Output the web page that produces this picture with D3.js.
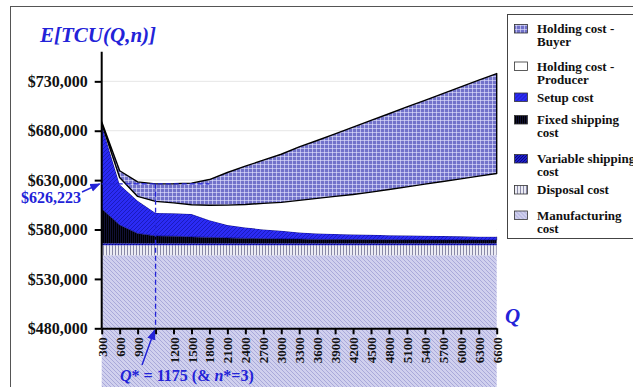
<!DOCTYPE html>
<html>
<head>
<meta charset="utf-8">
<script src="https://cdn.jsdelivr.net/npm/d3@7"></script>
<style>
  body { margin: 0; background: #fff; }
  svg { display: block; }
  text { font-family: "Liberation Serif", "Times New Roman", serif; font-weight: bold; }
</style>
</head>
<body>
<svg id="chart" width="633" height="387"></svg>
<script>
// order quantity Q (1175 is the optimum, its label is hidden on the axis)
const categories = [300, 600, 900, 1175, 1200, 1500, 1800, 2100, 2400, 2700, 3000, 3300,
  3600, 3900, 4200, 4500, 4800, 5100, 5400, 5700, 6000, 6300, 6600];
const tickLabels = ["300", "600", "900", "", "1200", "1500", "1800", "2100", "2400", "2700", "3000", "3300",
  "3600", "3900", "4200", "4500", "4800", "5100", "5400", "5700", "6000", "6300", "6600"];
const yTicks = [480000, 530000, 580000, 630000, 680000, 730000];

// cost components ($), bottom of the stack first
const manufacturing = [554000, 554000, 554000, 554000, 554000, 554000, 554000, 554000, 554000, 554000, 554000, 554000,
  554000, 554000, 554000, 554000, 554000, 554000, 554000, 554000, 554000, 554000, 554000];
const disposal = [10000, 10000, 10000, 10000, 10000, 10000, 10000, 10000, 10000, 10000, 10000, 10000,
  10000, 10000, 10000, 10000, 10000, 10000, 10000, 10000, 10000, 10000, 10000];
const variableShipping = [2000, 2000, 2000, 2000, 2000, 2000, 2000, 2000, 2000, 2000, 2000, 2000,
  2000, 2000, 2000, 2000, 2000, 2000, 2000, 2000, 2000, 2000, 2000];
const fixedShipping = [35000, 18500, 10000, 7500, 7200, 6500, 6000, 5500, 5000, 4700, 4500, 4300,
  4000, 3900, 3800, 3700, 3600, 3500, 3400, 3400, 3300, 3300, 3300];
const setup = [85000, 41000, 33000, 23300, 23300, 23100, 17500, 13000, 11100, 9400, 8200, 6700,
  6000, 5600, 5200, 4900, 4700, 4500, 4300, 4000, 3800, 3500, 3300];
const holdingProducer = [1000, 7200, 4500, 11700, 10500, 9400, 15100, 20200, 23200, 26400, 28800, 32500,
  35500, 38000, 40500, 43200, 46200, 49200, 52200, 55200, 58200, 61200, 64100];
const holdingBuyer = [2000, 6800, 14700, 17723, 19400, 22000, 26000, 33000, 38800, 43700, 48700, 54100,
  58600, 63400, 68100, 72600, 76700, 80900, 84900, 89000, 93100, 97200, 101200];

const qStar = 1175;
const costStar = 626223;

const series = [
  {key: "manufacturing", values: manufacturing, fill: "url(#pManu)", label: ["Manufacturing", "cost"]},
  {key: "disposal", values: disposal, fill: "url(#pDisp)", label: ["Disposal cost"]},
  {key: "variableShipping", values: variableShipping, fill: "url(#pVar)", label: ["Variable shipping", "cost"]},
  {key: "fixedShipping", values: fixedShipping, fill: "url(#pFixed)", label: ["Fixed shipping", "cost"]},
  {key: "setup", values: setup, fill: "url(#pSetup)", label: ["Setup cost"]},
  {key: "holdingProducer", values: holdingProducer, fill: "#ffffff", label: ["Holding cost -", "Producer"]},
  {key: "holdingBuyer", values: holdingBuyer, fill: "url(#pHB)", label: ["Holding cost -", "Buyer"]}
];

const blue = "#2323d8";
const svg = d3.select("#chart");

// patterns
const defs = svg.append("defs");
function pattern(id, size, bg, path, stroke, sw) {
  const p = defs.append("pattern").attr("id", id).attr("patternUnits", "userSpaceOnUse")
    .attr("width", size).attr("height", size);
  p.append("rect").attr("width", size).attr("height", size).attr("fill", bg);
  p.append("path").attr("d", path).attr("stroke", stroke).attr("stroke-width", sw).attr("fill", "none");
}
pattern("pHB", 4, "#7272ca", "M0,0.5H4M0.5,0V4", "#e8e8ff", 0.6);
pattern("pSetup", 4, "#2b2bf4", "M0,4L4,0M-1,1L1,-1M3,5L5,3", "#1616b0", 0.8);
pattern("pFixed", 2, "#000000", "M0.5,0V2", "#1c1c58", 0.6);
pattern("pVar", 3, "#1e1ec8", "M0,3L3,0M-1,1L1,-1M2,4L4,2", "#00006a", 0.8);
pattern("pDisp", 3, "#ececf4", "M1.5,0V3", "#8a8aa8", 1);
pattern("pManu", 4, "#d0d0ee", "M0,0L4,4M-1,3L1,5M3,-1L5,1", "#a0a0d4", 0.8);

// outer frame
svg.append("rect").attr("x", 10.5).attr("y", 6.5).attr("width", 700).attr("height", 500)
  .attr("fill", "none").attr("stroke", "#555").attr("stroke-width", 1);

const x = d3.scalePoint().domain(categories).range([101.7, 496.7]);
const y = d3.scaleLinear().domain([480000, 760000]).range([328.3, 51.7]);

// gridlines
svg.append("g").selectAll("line").data(yTicks.slice(1)).join("line")
  .attr("x1", 101.7).attr("x2", 496.7)
  .attr("y1", d => y(d)).attr("y2", d => y(d))
  .attr("stroke", "#e6e6e6").attr("stroke-width", 1);

// stacked areas
const rows = categories.map((q, i) => {
  const r = {q: q};
  series.forEach(s => r[s.key] = s.values[i]);
  return r;
});
const stacked = d3.stack().keys(series.map(s => s.key))(rows);

const area = d3.area()
  .x(d => x(d.data.q))
  .y0(d => y(d[0]))
  .y1(d => y(d[1]));

svg.append("g").selectAll("path").data(stacked).join("path")
  .attr("d", area)
  .attr("fill", (d, i) => series[i].fill)
  .attr("stroke", (d, i) => series[i].key === "holdingBuyer" ? "#000" : (series[i].key === "setup" ? "#000050" : "none"))
  .attr("stroke-width", (d, i) => series[i].key === "holdingBuyer" ? 1.4 : 0.6)
  .attr("stroke-linejoin", "round");

// axes
const yAxis = svg.append("g").attr("transform", "translate(101.7,0)")
  .call(d3.axisLeft(y).tickValues(yTicks).tickSize(7).tickPadding(7)
    .tickFormat(d => "$" + d3.format(",")(d)));
yAxis.select(".domain").attr("stroke-width", 2).attr("d", "M0," + y(760000) + "V" + y(480000));
yAxis.selectAll(".tick line").attr("stroke-width", 2);
yAxis.selectAll(".tick text").attr("font-size", 16).attr("fill", "#111")
  .style("font-family", "'Liberation Serif', serif").style("font-weight", "bold");

const xAxis = svg.append("g").attr("transform", "translate(0," + y(480000) + ")")
  .call(d3.axisBottom(x).tickSize(6).tickSizeOuter(0).tickFormat((d, i) => tickLabels[i]));
xAxis.select(".domain").attr("stroke-width", 2);
xAxis.selectAll(".tick line").attr("stroke-width", 2);
xAxis.selectAll(".tick text")
  .attr("font-size", 13).attr("fill", "#111")
  .style("font-family", "'Liberation Serif', serif").style("font-weight", "bold")
  .attr("text-anchor", "end")
  .attr("transform", "rotate(-90)")
  .attr("x", -9).attr("y", 0).attr("dy", "0.35em");

// optimum markers
const xs = x(qStar), ys = y(costStar);
svg.append("line").attr("x1", x(300)).attr("x2", x(1800)).attr("y1", ys).attr("y2", ys)
  .attr("stroke", blue).attr("stroke-width", 1.3).attr("stroke-dasharray", "5,3");
svg.append("line").attr("x1", xs).attr("x2", xs).attr("y1", ys).attr("y2", y(480000))
  .attr("stroke", blue).attr("stroke-width", 1.3).attr("stroke-dasharray", "5,3");

defs.append("marker").attr("id", "arrow").attr("viewBox", "0 0 10 10").attr("refX", 9).attr("refY", 5)
  .attr("markerWidth", 7).attr("markerHeight", 7).attr("orient", "auto-start-reverse")
  .append("path").attr("d", "M0,1L10,5L0,9z").attr("fill", blue);

svg.append("line").attr("x1", 82).attr("y1", 192).attr("x2", x(300) - 2).attr("y2", ys)
  .attr("stroke", blue).attr("stroke-width", 1.5).attr("marker-end", "url(#arrow)");
svg.append("line").attr("x1", 142).attr("y1", 365).attr("x2", xs - 1).attr("y2", y(480000) + 2)
  .attr("stroke", blue).attr("stroke-width", 1.5).attr("marker-end", "url(#arrow)");

svg.append("text").attr("x", 21).attr("y", 203).attr("font-size", 16).attr("fill", blue)
  .text("$" + d3.format(",")(costStar));

const qt = svg.append("text").attr("x", 120).attr("y", 381).attr("font-size", 16).attr("fill", blue);
qt.append("tspan").attr("font-style", "italic").text("Q");
qt.append("tspan").text("* = " + qStar + " (& ");
qt.append("tspan").attr("font-style", "italic").text("n");
qt.append("tspan").text("*=3)");

// titles
svg.append("text").attr("x", 40).attr("y", 41.5).attr("font-size", 21)
  .attr("font-style", "italic").attr("fill", blue).text("E[TCU(Q,n)]");
svg.append("text").attr("x", 505).attr("y", 323).attr("font-size", 21)
  .attr("font-style", "italic").attr("fill", blue).text("Q");

// legend
svg.append("rect").attr("x", 507.5).attr("y", 14.5).attr("width", 200).attr("height", 224)
  .attr("fill", "#fff").attr("stroke", "#444").attr("stroke-width", 1);
const legendY = [33, 70.5, 101.5, 124, 163, 194, 219.5];
const legendSeries = series.slice().reverse();
const lg = svg.append("g").selectAll("g").data(legendSeries).join("g")
  .attr("transform", (d, i) => "translate(0," + legendY[i] + ")");
lg.append("rect").attr("x", 514.5).attr("y", -8.5).attr("width", 13).attr("height", 8.5)
  .attr("fill", d => d.fill).attr("stroke", "#333").attr("stroke-width", 0.8);
lg.each(function (d) {
  const g = d3.select(this);
  d.label.forEach((line, i) => {
    g.append("text").attr("x", 537).attr("y", i * 13.2)
      .attr("font-size", 13).attr("fill", "#111").text(line);
  });
});
</script>
</body>
</html>
